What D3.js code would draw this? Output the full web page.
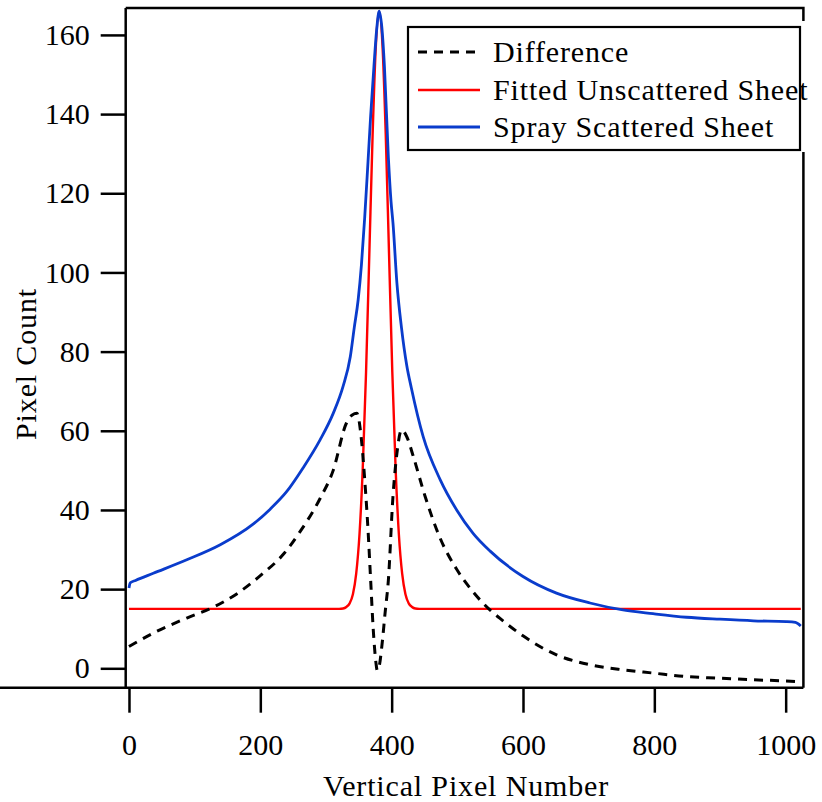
<!DOCTYPE html>
<html>
<head>
<meta charset="utf-8">
<script src="https://cdn.jsdelivr.net/npm/d3@7"></script>
<style>
  html, body { margin: 0; padding: 0; background: #ffffff; }
  svg { display: block; }
</style>
</head>
<body>
<svg id="chart" width="822" height="802"></svg>
<script>
// ---------- data ----------
const xTicks = [0, 200, 400, 600, 800, 1000];
const yTicks = [0, 20, 40, 60, 80, 100, 120, 140, 160];

const seriesNames = ["Difference", "Fitted Unscattered Sheet", "Spray Scattered Sheet"];

// Spray Scattered Sheet (blue)
const sprayX = [0, 2, 10, 37, 88, 139, 189, 215, 240, 265, 291, 311, 326, 337, 343, 349, 354, 359, 364, 368, 373, 377, 381, 385, 389, 395, 399, 402, 408, 415, 423, 430, 448, 474, 499, 524, 550, 600, 651, 702, 750, 798, 849, 900, 951, 1001, 1015, 1023];
const sprayY = [20.3, 21.6, 22.2, 24.0, 27.4, 31.2, 36.4, 40.2, 44.6, 50.6, 57.7, 64.4, 71.2, 78.7, 86.0, 93.1, 102.0, 114.0, 128.0, 139.5, 152.0, 161.0, 166.0, 162.0, 152.0, 129.0, 118.0, 112.5, 97.3, 86.0, 76.5, 70.8, 58.5, 47.6, 40.0, 34.1, 29.6, 23.2, 19.0, 16.5, 14.8, 13.8, 12.9, 12.4, 12.0, 11.8, 11.6, 10.7];

// Fitted Unscattered Sheet (red)
const fitX = [0, 320, 326, 331, 336, 341, 346, 351, 356, 361, 366, 371, 376, 381, 386, 391, 396, 401, 406, 411, 416, 421, 426, 431, 436, 442, 1023];
const fitY = [15.0, 15.0, 15.1, 15.5, 16.4, 18.7, 23.9, 33.8, 50.6, 74.8, 104.7, 134.8, 157.5, 166.0, 157.5, 134.8, 104.7, 74.8, 50.6, 33.8, 23.9, 18.7, 16.4, 15.5, 15.1, 15.0, 15.0];

// Difference (black dashed)
const diffX = [0, 37, 88, 128, 164, 200, 235, 260, 291, 311, 331, 340, 347, 354, 359, 364, 368, 372, 376, 378, 381, 385, 390, 395, 402, 408, 415, 423, 433, 451, 474, 499, 524, 550, 565, 600, 651, 702, 753, 798, 849, 900, 951, 1000, 1023];
const diffY = [5.5, 8.9, 12.7, 15.4, 18.8, 23.4, 28.8, 34.4, 42.9, 50.0, 61.9, 64.0, 64.4, 57.7, 47.6, 35.0, 22.3, 9.7, 1.5, -0.5, 0.5, 5.5, 14.0, 22.3, 43.4, 54.3, 60.2, 58.5, 53.5, 43.4, 32.8, 25.0, 19.3, 14.7, 12.6, 8.2, 3.4, 0.9, -0.4, -1.2, -2.1, -2.5, -2.9, -3.2, -3.4];

// ---------- layout ----------
const svg = d3.select("#chart");
const mLeft = 125.7, mRight = 803.4, mTop = 8, mBottom = 687.7;
const FONT = 30;
const FAM = '"Liberation Serif"';
const LS = "0.85px";

const x = d3.scaleLinear().domain([-5, 1027]).range([mLeft, mRight]);
const y = d3.scaleLinear().domain([-4.9, 166.8]).range([mBottom, mTop]);

const toPts = (xs, ys) => xs.map((v, i) => [v, ys[i]]);
const line = d3.line().x(d => x(d[0])).y(d => y(d[1])).curve(d3.curveMonotoneX);

const colors = { diff: "#000000", fit: "#ff0000", spray: "#0a3ccc" };

// lines
const g = svg.append("g");
g.append("path").datum(toPts(fitX, fitY))
  .attr("d", line).attr("fill", "none").attr("stroke", colors.fit).attr("stroke-width", 2.4);
g.append("path").datum(toPts(sprayX, sprayY))
  .attr("d", line).attr("fill", "none").attr("stroke", colors.spray).attr("stroke-width", 2.8);
g.append("path").datum(toPts(diffX, diffY))
  .attr("d", line).attr("fill", "none").attr("stroke", colors.diff).attr("stroke-width", 3)
  .attr("stroke-dasharray", "9,7");

// axes
const yAxis = d3.axisLeft(y).tickValues(yTicks).tickFormat(d3.format("d"))
  .tickSize(25).tickSizeOuter(0).tickPadding(11);
const xAxis = d3.axisBottom(x).tickValues(xTicks).tickFormat(d3.format("d"))
  .tickSize(25).tickSizeOuter(0).tickPadding(21);

const ya = svg.append("g").attr("transform", `translate(${mLeft},0)`).call(yAxis);
const xa = svg.append("g").attr("transform", `translate(0,${mBottom})`).call(xAxis);
[ya, xa].forEach(a => {
  a.select(".domain").attr("stroke", "#000").attr("stroke-width", 2.5);
  a.selectAll(".tick line").attr("stroke", "#000").attr("stroke-width", 2.5);
  a.selectAll(".tick text").style("font-size", FONT + "px")
    .style("font-family", FAM).attr("fill", "#000");
});
ya.select(".domain").attr("d", `M0,${mTop}V${mBottom + 1.2}`);
xa.select(".domain").attr("d", `M${-1.2},0H${mRight}`);

// frame top/right
svg.append("path")
  .attr("d", `M${mLeft},${mTop}H${mRight}V${mBottom}`)
  .attr("fill", "none").attr("stroke", "#000").attr("stroke-width", 2.5);

// axis titles
svg.append("text")
  .attr("transform", `translate(36,364) rotate(-90)`)
  .attr("text-anchor", "middle").style("font-size", FONT + "px").style("font-family", FAM)
  .style("letter-spacing", LS).attr("fill", "#000").text("Pixel Count");
svg.append("text")
  .attr("x", 466).attr("y", 796)
  .attr("text-anchor", "middle").style("font-size", FONT + "px").style("font-family", FAM)
  .style("letter-spacing", LS).attr("fill", "#000").text("Vertical Pixel Number");

// legend
const lg = svg.append("g");
lg.append("rect").attr("x", 405).attr("y", 21).attr("width", 403).attr("height", 131).attr("fill", "#fff");
lg.append("rect").attr("x", 408).attr("y", 27).attr("width", 392).attr("height", 123)
  .attr("fill", "none").attr("stroke", "#000").attr("stroke-width", 2.2);
const rows = [
  { name: seriesNames[0], color: colors.diff, dash: "9,7", w: 3, cy: 52 },
  { name: seriesNames[1], color: colors.fit, dash: null, w: 2.4, cy: 90 },
  { name: seriesNames[2], color: colors.spray, dash: null, w: 2.8, cy: 127 }
];
rows.forEach(r => {
  lg.append("line").attr("x1", 418).attr("x2", 480).attr("y1", r.cy).attr("y2", r.cy)
    .attr("stroke", r.color).attr("stroke-width", r.w)
    .attr("stroke-dasharray", r.dash);
  lg.append("text").attr("x", 493).attr("y", r.cy).attr("dy", "0.34em")
    .style("font-size", FONT + "px").style("font-family", FAM).style("letter-spacing", LS)
    .attr("fill", "#000").text(r.name);
});
</script>
</body>
</html>
